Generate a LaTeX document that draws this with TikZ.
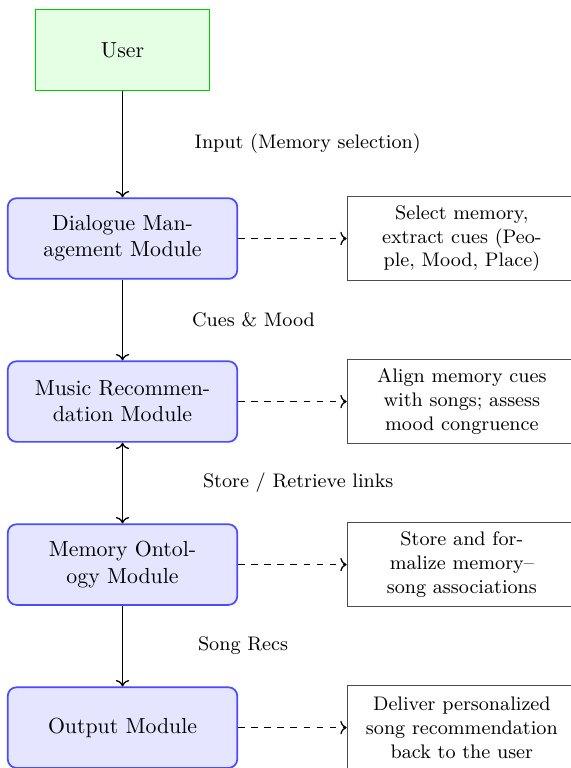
\documentclass[tikz,border=0pt]{standalone}
\usepackage{tikz}
\usetikzlibrary{arrows.meta,positioning}

\tikzset{
    userbox/.style={draw=green!80!black, fill=green!10, minimum width=2.8cm, minimum height=1.3cm},
    module/.style={draw=blue!70, fill=blue!10, thick, rounded corners, minimum width=3.7cm,
        minimum height=1.3cm, align=center},
    notebox/.style={draw=black!70, font=\small, minimum width=3.7cm, minimum height=1.35cm,
        align=center},
    flow/.style={->, semithick},
    detail/.style={->, dashed, semithick},
    flowlabel/.style={midway, right=31pt, font=\small}
}

\begin{document}
\begin{tikzpicture}
    \useasboundingbox (-56.2pt, 22.9pt) rectangle (205.7pt, -329.4pt);

    % Main pipeline
    \node[userbox] (user) {User};
    \node[module, below=1.72cm of user] (dialogue) {Dialogue Man-\\agement Module};
    \node[module, below=1.3cm of dialogue] (music) {Music Recommen-\\dation Module};
    \node[module, below=1.3cm of music] (ontology) {Memory Ontol-\\ogy Module};
    \node[module, below=1.3cm of ontology] (output) {Output Module};

    % Side notes
    \node[notebox, right=1.75cm of dialogue] (dialoguenote) {Select memory,\\extract cues (Peo-\\ple, Mood, Place)};
    \node[notebox, right=1.75cm of music] (musicnote) {Align memory cues\\with songs; assess\\mood congruence};
    \node[notebox, right=1.75cm of ontology] (ontologynote) {Store and for-\\malize memory--\\song associations};
    \node[notebox, right=1.75cm of output] (outputnote) {Deliver personalized\\song recommendation\\back to the user};

    % Flow between modules
    \draw[flow] (user) -- (dialogue) node[flowlabel, xshift=-1.5pt] {Input (Memory selection)};
    \draw[flow] (dialogue) -- (music) node[flowlabel, xshift=-2.7pt] {Cues \& Mood};
    \draw[flow, <->] (music) -- (ontology) node[flowlabel, xshift=2.3pt] {Store / Retrieve links};
    \draw[flow] (ontology) -- (output) node[flowlabel] {Song Recs};

    % Details
    \draw[detail] (dialogue) -- (dialoguenote);
    \draw[detail] (music) -- (musicnote);
    \draw[detail] (ontology) -- (ontologynote);
    \draw[detail] (output) -- (outputnote);
\end{tikzpicture}
\end{document}
